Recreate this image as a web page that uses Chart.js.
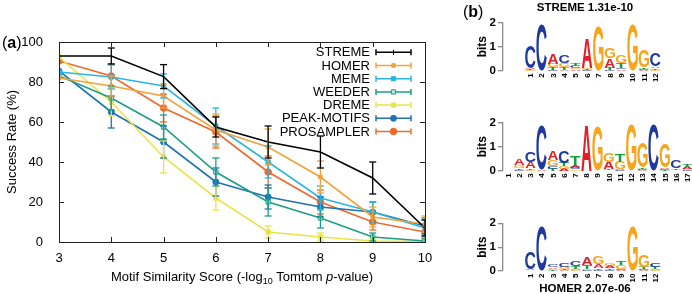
<!DOCTYPE html>
<html>
<head>
<meta charset="utf-8">
<script src="https://cdn.jsdelivr.net/npm/chart.js@4.4.1/dist/chart.umd.min.js"></script>
<style>
  html, body { margin: 0; padding: 0; background: #fff; }
  #wrap { position: relative; width: 692px; height: 294px; overflow: hidden; }
  canvas { position: absolute; }
</style>
</head>
<body>
<div id="wrap">
  <canvas id="main" style="left:0;top:0;width:460px;height:294px"></canvas>
  <canvas id="logo1" style="left:460px;top:0;width:240px;height:97px"></canvas>
  <canvas id="logo2" style="left:460px;top:97px;width:240px;height:98px"></canvas>
  <canvas id="logo3" style="left:460px;top:195px;width:240px;height:99px"></canvas>
</div>
<script>
const FONT = "'Liberation Sans', Arial, Helvetica, sans-serif";

// ---- panel (a) data ----
const scores = [3, 4, 5, 6, 7, 8, 9, 10];

const streme = [93, 93, 82.7, 57.5, 50, 45, 32, 7];
const stremeErr = [null, 4, 6, 5, 8, 8, 8, 4];
const homer = [82, 78, 73, 56, 47.5, 32.5, 12.5, 9];
const homerErr = [null, 5, 6, 8, 9, 8, 5, 4];
const meme = [85, 82.5, 78, 58, 40, 22, 15, 7];
const memeErr = [null, 6, 6, 9, 8, 6, 5, 4];
const weeder = [83, 72, 57.5, 35, 20, 12, 2.5, 0.5];
const weederErr = [null, 6, 6, 7, 7, 5, 2, 1];
const dreme = [92.5, 70, 42.5, 22, 5, 2.5, 0.5, 0.3];
const dremeErr = [null, 7, 8, 6, 3, 2, 1, 1];
const peak = [85.5, 65, 50, 30, 22.5, 17.5, 15, 8];
const peakErr = [null, 8, 8, 7, 6, 5, 5, 4];
const prosampler = [90.5, 83, 67, 55, 35, 20, 10, 5];
const prosamplerErr = [null, 6, 7, 8, 8, 6, 4, 3];

const yTicks = [0, 20, 40, 60, 80, 100];

// ---- panel (b) logo data (bits per letter, per position) ----
const stremeLogoA = [0.04, 0.00, 0.42, 0.05, 0.05, 1.25, 0.00, 0.38, 0.05, 0.00, 0.04, 0.07];
const stremeLogoC = [0.92, 1.90, 0.04, 0.32, 0.10, 0.03, 0.00, 0.05, 0.05, 0.00, 0.04, 0.55];
const stremeLogoG = [0.03, 0.00, 0.14, 0.18, 0.05, 0.06, 1.88, 0.42, 0.30, 1.90, 0.72, 0.05];
const stremeLogoT = [0.03, 0.00, 0.10, 0.10, 0.10, 0.04, 0.00, 0.08, 0.20, 0.00, 0.06, 0.05];

const motifLogoA = [0.00, 0.25, 0.25, 0.03, 0.40, 0.08, 0.10, 1.90, 0.00, 0.30, 0.05, 0.00, 0.03, 0.00, 0.05, 0.02, 0.08];
const motifLogoC = [0.00, 0.05, 0.45, 1.85, 0.10, 0.48, 0.08, 0.00, 0.00, 0.02, 0.03, 0.00, 0.05, 1.90, 0.04, 0.32, 0.04];
const motifLogoG = [0.00, 0.12, 0.05, 0.00, 0.28, 0.10, 0.05, 0.00, 1.87, 0.38, 0.30, 1.90, 1.05, 0.00, 0.98, 0.02, 0.04];
const motifLogoT = [0.00, 0.05, 0.05, 0.00, 0.08, 0.15, 0.35, 0.00, 0.00, 0.05, 0.30, 0.00, 0.07, 0.00, 0.03, 0.06, 0.12];

const homerLogoA = [0.05, 0.00, 0.07, 0.04, 0.05, 0.30, 0.15, 0.10, 0.04, 0.00, 0.04, 0.05];
const homerLogoC = [0.72, 1.90, 0.10, 0.15, 0.22, 0.05, 0.06, 0.06, 0.06, 0.00, 0.05, 0.15];
const homerLogoG = [0.02, 0.00, 0.05, 0.08, 0.04, 0.05, 0.30, 0.10, 0.15, 1.90, 0.50, 0.04];
const homerLogoT = [0.02, 0.00, 0.03, 0.05, 0.12, 0.17, 0.06, 0.06, 0.18, 0.00, 0.08, 0.08];

const letterColors = { A: '#e31e24', C: '#1f3a9e', G: '#f7a51c', T: '#14a03a' };

// ---- panel (a) chart ----
function series(label, values, errors, color, pointStyle, radius, fill) {
  return {
    label,
    data: scores.map((x, i) => ({ x, y: values[i] })),
    errors,
    borderColor: color,
    backgroundColor: color,
    borderWidth: 1.6,
    pointStyle,
    pointRadius: radius,
    pointBackgroundColor: fill || color,
    pointBorderColor: color,
    pointBorderWidth: 1,
    tension: 0,
  };
}

const datasets = [
  series('STREME', streme, stremeErr, '#000000', 'line', 0),
  series('HOMER', homer, homerErr, '#f3a23a', 'rect', 2.5),
  series('MEME', meme, memeErr, '#2cb5e2', 'rect', 3),
  series('WEEDER', weeder, weederErr, '#1c9e84', 'rect', 3, '#bfe6dc'),
  series('DREME', dreme, dremeErr, '#e9e34a', 'rect', 3),
  series('PEAK-MOTIFS', peak, peakErr, '#1f72b4', 'circle', 3),
  series('PROSAMPLER', prosampler, prosamplerErr, '#ec6a2b', 'circle', 3.3),
];

function line(ctx, x1, y1, x2, y2) {
  ctx.beginPath(); ctx.moveTo(x1, y1); ctx.lineTo(x2, y2); ctx.stroke();
}

const errorBarPlugin = {
  id: 'errorBars',
  afterDatasetsDraw(chart) {
    const { ctx, chartArea: a } = chart;
    const xs = chart.scales.x, ys = chart.scales.y;
    ctx.save();
    ctx.beginPath();
    ctx.rect(a.left, a.top, a.width, a.height);
    ctx.clip();
    for (let d = chart.data.datasets.length - 1; d >= 0; d--) {
      const ds = chart.data.datasets[d];
      ctx.strokeStyle = ds.borderColor;
      ctx.lineWidth = 1.3;
      ds.data.forEach((p, i) => {
        const e = ds.errors[i];
        if (e == null) return;
        const x = xs.getPixelForValue(p.x);
        const y1 = ys.getPixelForValue(p.y + e);
        const y2 = ys.getPixelForValue(p.y - e);
        line(ctx, x, y1, x, y2);
        line(ctx, x - 3.5, y1, x + 3.5, y1);
        line(ctx, x - 3.5, y2, x + 3.5, y2);
      });
    }
    ctx.restore();
  }
};

const framePlugin = {
  id: 'frame',
  afterDraw(chart) {
    const { ctx, chartArea: a } = chart;
    const xs = chart.scales.x, ys = chart.scales.y;
    ctx.save();
    ctx.strokeStyle = '#222';
    ctx.lineWidth = 1;
    ctx.strokeRect(Math.round(a.left) + 0.5, Math.round(a.top) + 0.5, Math.round(a.width), Math.round(a.height));
    xs.ticks.forEach(t => {
      const px = Math.round(xs.getPixelForValue(t.value)) + 0.5;
      line(ctx, px, a.bottom, px, a.bottom - 5);
      line(ctx, px, a.top, px, a.top + 5);
    });
    ys.ticks.forEach(t => {
      const py = Math.round(ys.getPixelForValue(t.value)) + 0.5;
      line(ctx, a.left, py, a.left + 5, py);
      line(ctx, a.right, py, a.right - 5, py);
    });

    // y title
    ctx.fillStyle = '#000';
    ctx.font = `13px ${FONT}`;
    ctx.textAlign = 'center';
    ctx.textBaseline = 'middle';
    ctx.save();
    ctx.translate(12, (a.top + a.bottom) / 2);
    ctx.rotate(-Math.PI / 2);
    ctx.fillText('Success Rate (%)', 0, 0);
    ctx.restore();

    // x title with subscript and italic p
    const parts = [
      { t: 'Motif Similarity Score (-log', f: `13px ${FONT}`, dy: 0 },
      { t: '10', f: `9px ${FONT}`, dy: 3 },
      { t: ' Tomtom ', f: `13px ${FONT}`, dy: 0 },
      { t: 'p', f: `italic 13px ${FONT}`, dy: 0 },
      { t: '-value)', f: `13px ${FONT}`, dy: 0 },
    ];
    ctx.textAlign = 'left';
    ctx.textBaseline = 'alphabetic';
    let total = 0;
    parts.forEach(p => { ctx.font = p.f; p.w = ctx.measureText(p.t).width; total += p.w; });
    let x = (a.left + a.right) / 2 - total / 2;
    parts.forEach(p => { ctx.font = p.f; ctx.fillText(p.t, x, 281 + p.dy); x += p.w; });

    // panel label (a)
    ctx.font = `16px ${FONT}`;
    let lx = 2;
    ctx.fillText('(', lx, 48); lx += ctx.measureText('(').width;
    ctx.font = `bold 16px ${FONT}`;
    ctx.fillText('a', lx, 48); lx += ctx.measureText('a').width;
    ctx.font = `16px ${FONT}`;
    ctx.fillText(')', lx, 48);

    // legend
    const textRight = a.right - 55;
    const l1 = a.right - 49, l2 = a.right - 14, mid = (l1 + l2) / 2;
    chart.data.datasets.forEach((ds, i) => {
      const y = a.top + 10.3 + i * 13.2;
      ctx.fillStyle = '#000';
      ctx.font = `13px ${FONT}`;
      ctx.textAlign = 'right';
      ctx.textBaseline = 'middle';
      ctx.fillText(ds.label, textRight, y + 0.5);
      ctx.strokeStyle = ds.borderColor;
      ctx.lineWidth = 1.5;
      line(ctx, l1, y, l2, y);
      line(ctx, l1, y - 3, l1, y + 3);
      line(ctx, l2, y - 3, l2, y + 3);
      ctx.fillStyle = ds.pointBackgroundColor;
      ctx.lineWidth = 1;
      if (ds.pointRadius > 0) {
        Chart.helpers.drawPoint(ctx, { pointStyle: ds.pointStyle, radius: ds.pointRadius, borderWidth: 1, rotation: 0 }, mid, y);
      } else {
        line(ctx, mid, y - 2.5, mid, y + 2.5);
      }
    });
    ctx.restore();
  }
};

new Chart(document.getElementById('main'), {
  type: 'line',
  data: { datasets },
  plugins: [errorBarPlugin, framePlugin],
  options: {
    responsive: false,
    animation: false,
    events: [],
    layout: { padding: { left: 0, top: 42, right: 35, bottom: 0 } },
    plugins: { legend: { display: false }, tooltip: { enabled: false } },
    scales: {
      x: {
        type: 'linear', min: 3, max: 10,
        grid: { display: false }, border: { display: false },
        afterFit(s) { s.height = 52; },
        ticks: { stepSize: 1, padding: 1, color: '#000', font: { family: FONT, size: 13 } },
      },
      y: {
        min: 0, max: 100,
        grid: { display: false }, border: { display: false },
        afterFit(s) { s.width = 59; },
        afterBuildTicks(s) { s.ticks = yTicks.map(v => ({ value: v })); },
        ticks: { padding: 8, color: '#000', font: { family: FONT, size: 13 } },
      },
    },
  },
});

// ---- panel (b) sequence logos ----
const LOGO_FONT = `bold 100px ${FONT}`;
const glyphCache = {};
function glyphBox(ctx, ch) {
  if (!glyphCache[ch]) {
    ctx.font = LOGO_FONT;
    const m = ctx.measureText(ch);
    glyphCache[ch] = { l: m.actualBoundingBoxLeft, r: m.actualBoundingBoxRight, a: m.actualBoundingBoxAscent, d: m.actualBoundingBoxDescent };
  }
  return glyphCache[ch];
}
function drawLetter(ctx, ch, x, y, w, h) {
  if (h < 0.4) return;
  const g = glyphBox(ctx, ch);
  ctx.save();
  ctx.translate(x, y);
  ctx.scale(w / (g.l + g.r), h / (g.a + g.d));
  ctx.font = LOGO_FONT;
  ctx.fillStyle = letterColors[ch];
  ctx.textAlign = 'left';
  ctx.textBaseline = 'alphabetic';
  ctx.fillText(ch, g.l, g.a);
  ctx.restore();
}

function makeLogo(id, A, C, G, T, o) {
  const n = A.length;
  const totals = A.map((v, i) => v + C[i] + G[i] + T[i]);
  const logoPlugin = {
    id: 'logo_' + id,
    afterDatasetsDraw(chart) {
      const { ctx, chartArea: a } = chart;
      const xs = chart.scales.x, ys = chart.scales.y;
      const step = xs.getPixelForValue(2) - xs.getPixelForValue(1);
      const w = step * 0.92;
      for (let i = 0; i < n; i++) {
        const cx = xs.getPixelForValue(i + 1);
        const stack = [['A', A[i]], ['C', C[i]], ['G', G[i]], ['T', T[i]]].sort((p, q) => p[1] - q[1]);
        let cum = 0;
        stack.forEach(([ch, h]) => {
          const yb = ys.getPixelForValue(cum);
          const yt = ys.getPixelForValue(cum + h);
          drawLetter(ctx, ch, cx - w / 2, yt, w, yb - yt);
          cum += h;
        });
        // rotated position label
        ctx.save();
        ctx.fillStyle = '#000';
        ctx.font = `bold 8px ${FONT}`;
        ctx.textAlign = 'right';
        ctx.textBaseline = 'middle';
        ctx.translate(cx + 0.5, a.bottom + 2.5);
        ctx.rotate(-Math.PI / 2);
        ctx.fillText(String(i + 1), 0, 0);
        ctx.restore();
      }
      ctx.save();
      ctx.fillStyle = '#000';
      ctx.font = `bold 12px ${FONT}`;
      ctx.textAlign = 'center';
      ctx.textBaseline = 'middle';
      ctx.translate(23, (a.top + a.bottom) / 2);
      ctx.rotate(-Math.PI / 2);
      ctx.fillText('bits', 0, 0);
      ctx.restore();
      if (o.title) {
        ctx.save();
        ctx.fillStyle = '#000';
        ctx.font = `bold 11.5px ${FONT}`;
        ctx.textAlign = 'center';
        ctx.textBaseline = 'middle';
        ctx.fillText(o.title, 125, o.titleY);
        ctx.restore();
      }
      if (o.panel) {
        ctx.save();
        ctx.fillStyle = '#000';
        ctx.textBaseline = 'alphabetic';
        ctx.textAlign = 'left';
        let lx = 3;
        ctx.font = `16px ${FONT}`;
        ctx.fillText('(', lx, 17); lx += ctx.measureText('(').width;
        ctx.font = `bold 16px ${FONT}`;
        ctx.fillText('b', lx, 17); lx += ctx.measureText('b').width;
        ctx.font = `16px ${FONT}`;
        ctx.fillText(')', lx, 17);
        ctx.restore();
      }
    }
  };
  new Chart(document.getElementById(id), {
    type: 'bar',
    data: { datasets: [{ data: totals.map((t, i) => ({ x: i + 1, y: t })), backgroundColor: 'rgba(0,0,0,0)', borderWidth: 0 }] },
    plugins: [logoPlugin],
    options: {
      responsive: false,
      animation: false,
      events: [],
      layout: { padding: { left: 0, top: o.top, right: o.right, bottom: 0 } },
      plugins: { legend: { display: false }, tooltip: { enabled: false } },
      scales: {
        x: {
          type: 'linear', min: o.xMin, max: o.xMax, offset: false,
          grid: { display: false }, border: { display: false },
          afterFit(s) { s.height = o.h - o.bottom; },
          ticks: { display: false },
        },
        y: {
          min: 0, max: 2,
          afterFit(s) { s.width = 43; },
          grid: { drawOnChartArea: false, tickLength: 5, color: '#8a8a8a', lineWidth: 1.3 },
          border: { color: '#8a8a8a', width: 1.3 },
          ticks: { stepSize: 1, padding: 2, color: '#000', font: { family: FONT, size: 11.5, weight: 'bold' } },
        },
      },
    },
  });
}

makeLogo('logo1', stremeLogoA, stremeLogoC, stremeLogoG, stremeLogoT,
  { h: 97, top: 22.7, bottom: 70.7, xMin: -1.4, xMax: 14, right: 22, title: 'STREME 1.31e-10', titleY: 8, panel: true });
makeLogo('logo2', motifLogoA, motifLogoC, motifLogoG, motifLogoT,
  { h: 98, top: 25.7, bottom: 73.7, xMin: 0.55, xMax: 17.5, right: 7.2 });
makeLogo('logo3', homerLogoA, homerLogoC, homerLogoG, homerLogoT,
  { h: 99, top: 28.3, bottom: 76, xMin: -1.4, xMax: 14, right: 22, title: 'HOMER 2.07e-06', titleY: 93.5 });
</script>
</body>
</html>
